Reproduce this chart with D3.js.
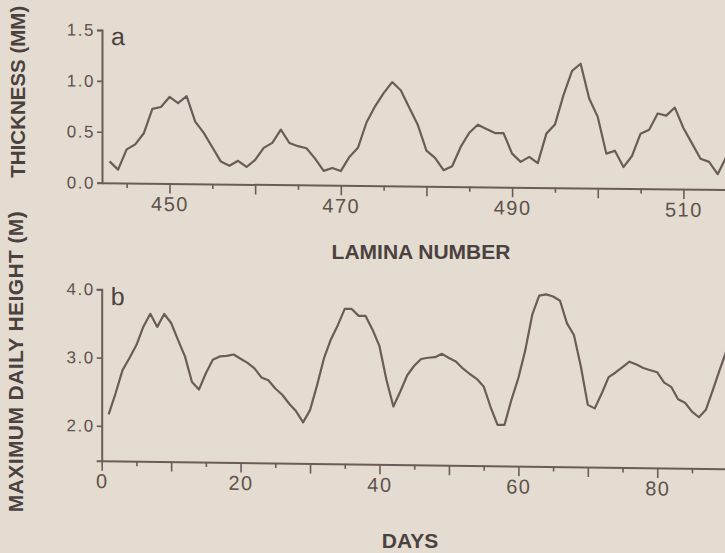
<!DOCTYPE html>
<html>
<head>
	<meta charset="utf-8">
	<script src="https://d3js.org/d3.v7.min.js"></script>
	<title>Lamina thickness and daily height</title>
	<style>
		body { margin: 0; background: #e4dcd0; }
	</style>
</head>
<body>
	<div id="chart"></div>

	<script type="text/javascript">

		// panel a : lamina thickness
		var lamina = [443, 444, 445, 446, 447, 448, 449, 450, 451, 452, 453, 454, 455, 456, 457, 458, 459,
			460, 461, 462, 463, 464, 465, 466, 467, 468, 469, 470, 471, 472, 473, 474, 475, 476, 477, 478, 479,
			480, 481, 482, 483, 484, 485, 486, 487, 488, 489, 490, 491, 492, 493, 494, 495, 496, 497, 498, 499,
			500, 501, 502, 503, 504, 505, 506, 507, 508, 509, 510, 511, 512, 513, 514, 515];
		var thickness = [0.21, 0.13, 0.33, 0.38, 0.49, 0.73, 0.75, 0.85, 0.79, 0.86, 0.61, 0.50, 0.36, 0.22, 0.18, 0.23, 0.17,
			0.24, 0.36, 0.41, 0.54, 0.41, 0.38, 0.36, 0.26, 0.14, 0.17, 0.14, 0.28, 0.37, 0.62, 0.78, 0.91, 1.02, 0.94, 0.77, 0.60,
			0.35, 0.28, 0.16, 0.20, 0.39, 0.53, 0.61, 0.57, 0.53, 0.53, 0.33, 0.25, 0.30, 0.24, 0.53, 0.62, 0.91, 1.15, 1.22, 0.88,
			0.70, 0.34, 0.37, 0.21, 0.32, 0.54, 0.58, 0.74, 0.72, 0.80, 0.60, 0.45, 0.30, 0.27, 0.15, 0.32];
		var laminaLabels = [450, 470, 490, 510];
		var thicknessTicks = [0, 0.5, 1.0, 1.5];

		// panel b : maximum daily height
		var days = [1, 2, 3, 4, 5, 6, 7, 8, 9, 10, 11, 12, 13, 14, 15, 16, 17, 18, 19, 20,
			21, 22, 23, 24, 25, 26, 27, 28, 29, 30, 31, 32, 33, 34, 35, 36, 37, 38, 39, 40,
			41, 42, 43, 44, 45, 46, 47, 48, 49, 50, 51, 52, 53, 54, 55, 56, 57, 58, 59, 60,
			61, 62, 63, 64, 65, 66, 67, 68, 69, 70, 71, 72, 73, 74, 75, 76, 77, 78, 79, 80,
			81, 82, 83, 84, 85, 86, 87, 88, 89, 90];
		var maxHeight = [2.17, 2.48, 2.82, 3.00, 3.19, 3.46, 3.65, 3.46, 3.65, 3.52, 3.27, 3.03, 2.66, 2.55, 2.79, 2.99, 3.04, 3.05, 3.07, 3.01,
			2.95, 2.87, 2.74, 2.70, 2.58, 2.49, 2.36, 2.25, 2.09, 2.27, 2.63, 3.03, 3.31, 3.52, 3.76, 3.76, 3.66, 3.66, 3.46, 3.22,
			2.73, 2.34, 2.56, 2.80, 2.94, 3.04, 3.06, 3.07, 3.12, 3.06, 3.01, 2.91, 2.83, 2.76, 2.65, 2.35, 2.09, 2.09, 2.46, 2.78,
			3.19, 3.71, 3.99, 4.01, 3.98, 3.92, 3.59, 3.42, 2.96, 2.40, 2.35, 2.57, 2.81, 2.88, 2.96, 3.04, 3.00, 2.95, 2.92, 2.89,
			2.74, 2.68, 2.50, 2.45, 2.32, 2.24, 2.35, 2.64, 2.94, 3.23];
		var dayLabels = [0, 20, 40, 60, 80];
		var heightTicks = [2.0, 3.0, 4.0];

		var ink = "#6b5c57";
		var textInk = "#5f524e";
		var titleInk = "#4b413e";
		var font = "'Liberation Sans', Arial, Helvetica, sans-serif";

		var svg = d3.select("#chart").append("svg")
			.attr("width", 725)
			.attr("height", 553)
			.style("display", "block");

		svg.append("rect").attr("width", 725).attr("height", 553).attr("fill", "#e4dcd0");

		// the scan is slightly tilted, so each panel gets a small skew
		function drawPanel(opts) {
			var g = svg.append("g")
				.attr("transform", "translate(" + opts.left + ",0) skewY(" + opts.skew + ")");

			var xAxis = g.append("g")
				.attr("transform", "translate(0," + opts.y.range()[0] + ")")
				.attr("color", ink)
				.call(d3.axisBottom(opts.x)
					.tickValues(opts.xTicks)
					.tickSizeInner(10)
					.tickSizeOuter(0)
					.tickFormat(function(d){ return opts.xLabels.indexOf(d) >= 0 ? d : ""; }));
			xAxis.select(".domain").attr("stroke-width", 2);
			xAxis.selectAll(".tick line")
				.attr("stroke-width", 1.6)
				.attr("y2", function(d){ return d % 10 === 0 ? 10 : 5; });
			xAxis.selectAll(".tick text")
				.attr("y", 27.5)
				.attr("dy", null)
				.attr("fill", textInk)
				.style("font-family", font)
				.style("font-size", "20px")
				.style("letter-spacing", "1.5px");

			var yAxis = g.append("g")
				.attr("color", ink)
				.call(d3.axisLeft(opts.y)
					.tickValues(opts.yTicks)
					.tickSize(5)
					.tickPadding(2)
					.tickFormat(d3.format(".1f")));
			yAxis.select(".domain").attr("stroke-width", 2);
			yAxis.selectAll(".tick line").attr("stroke-width", 1.6);
			yAxis.selectAll(".tick text")
				.attr("fill", textInk)
				.style("font-family", font)
				.style("font-size", "17px")
				.style("letter-spacing", "1.5px");

			g.append("text")
				.attr("x", 9)
				.attr("y", opts.letterY)
				.attr("fill", titleInk)
				.style("font-family", font)
				.style("font-size", "25px")
				.text(opts.letter);

			var line = d3.line()
				.x(function(d){ return opts.x(d[0]); })
				.y(function(d){ return opts.y(d[1]); });

			g.append("path")
				.datum(d3.zip(opts.xs, opts.ys))
				.attr("d", line)
				.attr("fill", "none")
				.attr("stroke", ink)
				.attr("stroke-width", 2.2)
				.attr("stroke-linejoin", "round");
		}

		drawPanel({
			left: 102,
			skew: 0.63,
			x: d3.scaleLinear().domain([442.12, 515.44]).range([0, 628]),
			y: d3.scaleLinear().domain([0, 1.5]).range([182.7, 30]),
			xTicks: d3.range(445, 516, 5),
			xLabels: laminaLabels,
			yTicks: thicknessTicks,
			letter: "a",
			letterY: 45,
			xs: lamina,
			ys: thickness
		});

		drawPanel({
			left: 101.7,
			skew: 0.745,
			x: d3.scaleLinear().domain([0, 90]).range([0, 625]),
			y: d3.scaleLinear().domain([1.49, 4.0]).range([460.7, 289.3]),
			xTicks: d3.range(0, 91, 5),
			xLabels: dayLabels,
			yTicks: heightTicks,
			letter: "b",
			letterY: 305,
			xs: days,
			ys: maxHeight
		});

		// axis titles
		svg.append("text")
			.attr("x", 421).attr("y", 259)
			.attr("text-anchor", "middle")
			.attr("fill", titleInk)
			.style("font-family", font).style("font-weight", "bold").style("font-size", "21px")
			.text("LAMINA NUMBER");

		svg.append("text")
			.attr("x", 410).attr("y", 548)
			.attr("text-anchor", "middle")
			.attr("fill", titleInk)
			.style("font-family", font).style("font-weight", "bold").style("font-size", "21px")
			.text("DAYS");

		svg.append("text")
			.attr("transform", "translate(25,91.7) rotate(-90)")
			.attr("text-anchor", "middle")
			.attr("fill", titleInk)
			.style("font-family", font).style("font-weight", "bold").style("font-size", "20.5px")
			.text("THICKNESS (MM)");

		svg.append("text")
			.attr("transform", "translate(22.7,361.5) rotate(-90)")
			.attr("text-anchor", "middle")
			.attr("fill", titleInk)
			.style("font-family", font).style("font-weight", "bold").style("font-size", "21px")
			.style("letter-spacing", "0.4px")
			.text("MAXIMUM DAILY HEIGHT (M)");

	</script>

</body>
</html>
